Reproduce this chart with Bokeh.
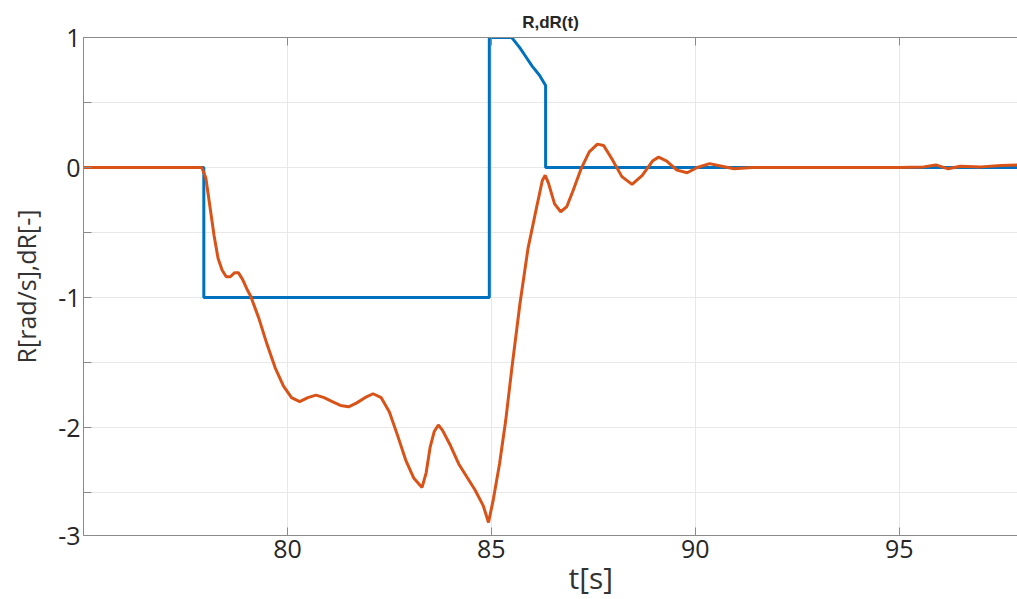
from bokeh.plotting import figure
from bokeh.models import Range1d, FixedTicker, LinearAxis, Title
from bokeh.embed import file_html
from bokeh.resources import INLINE

# ---- data ----
t_dR = [75.0, 77.95, 77.95, 84.95, 84.95, 85.5, 85.55, 85.7, 85.85, 86.0, 86.18, 86.33, 86.33, 97.9]
dR = [0.0, 0.0, -1.0, -1.0, 1.0, 1.0, 0.98, 0.92, 0.85, 0.78, 0.71, 0.63, 0.0, 0.0]

t_R = [75.0, 77.9, 78.0, 78.1, 78.2, 78.3, 78.4, 78.5, 78.6, 78.7, 78.8, 78.9, 79.0, 79.1,
       79.3, 79.5, 79.7, 79.9, 80.1, 80.3, 80.5, 80.7, 80.9, 81.1, 81.3, 81.5, 81.7, 81.9,
       82.1, 82.3, 82.5, 82.7, 82.9, 83.1, 83.3, 83.4, 83.5, 83.6, 83.7, 83.8, 84.0, 84.2,
       84.4, 84.6, 84.8, 84.93, 85.05, 85.2, 85.35, 85.5, 85.7, 85.9, 86.1, 86.25, 86.32,
       86.4, 86.55, 86.7, 86.85, 87.0, 87.2, 87.4, 87.6, 87.75, 87.95, 88.2, 88.45, 88.7,
       88.95, 89.1, 89.3, 89.55, 89.8, 90.05, 90.35, 90.65, 90.95, 91.4, 92.5, 93.5, 95.0,
       95.6, 95.9, 96.2, 96.5, 97.0, 97.5, 97.9]
R = [0.0, 0.0, -0.08, -0.30, -0.52, -0.70, -0.79, -0.84, -0.84, -0.81, -0.81, -0.86, -0.93, -0.99,
     -1.16, -1.36, -1.54, -1.68, -1.77, -1.80, -1.77, -1.75, -1.77, -1.80, -1.83, -1.84, -1.81, -1.77,
     -1.74, -1.77, -1.88, -2.06, -2.25, -2.39, -2.46, -2.35, -2.15, -2.03, -1.98, -2.02, -2.14, -2.28,
     -2.38, -2.48, -2.60, -2.73, -2.55, -2.28, -1.95, -1.55, -1.05, -0.62, -0.32, -0.10, -0.06,
     -0.12, -0.28, -0.34, -0.30, -0.18, -0.01, 0.12, 0.18, 0.17, 0.07, -0.07, -0.13, -0.06,
     0.05, 0.08, 0.05, -0.02, -0.04, 0.0, 0.03, 0.01, -0.01, 0.0, 0.0, 0.0, 0.0,
     0.005, 0.02, -0.01, 0.01, 0.005, 0.015, 0.02]

x_ticks = [80, 85, 90, 95]
y_bottom = -2.83
y_major = [y_bottom, -2.0, -1.0, 0.0, 1.0]
y_minor = [-2.5, -1.5, -0.5, 0.5]
y_labels = {y_bottom: "-3", -2.0: "-2", -1.0: "-1", 0.0: "0", 1.0: "1"}

title_text = "R,dR(t)"
x_label = "t[s]"
y_label = "R[rad/s],dR[-]"

FONT = "Open Sans"
AXIS_GRAY = "#8a8a8a"
TEXT = "#262626"
GRID = "#e8e8e8"

p = figure(width=1017, height=599, output_backend="svg", toolbar_location=None,
           x_range=Range1d(75, 97.9), y_range=Range1d(y_bottom, 1.0),
           min_border_left=83, min_border_right=0, min_border_top=37, min_border_bottom=64)
p.outline_line_color = None

p.title.text = title_text
p.title.align = "center"
p.title.text_font = "Liberation Sans"
p.title.text_font_style = "bold"
p.title.text_font_size = "17px"
p.title.text_color = TEXT
p.title.standoff = 11

# grids
p.xgrid.ticker = FixedTicker(ticks=x_ticks)
p.ygrid.ticker = FixedTicker(ticks=[-2.0, -1.0, 0.0, 1.0], minor_ticks=y_minor)
p.xgrid.grid_line_color = GRID
p.ygrid.grid_line_color = GRID
p.ygrid.minor_grid_line_color = GRID

# axes
for ax in (p.xaxis[0], p.yaxis[0]):
    ax.axis_line_color = AXIS_GRAY
    ax.major_tick_line_color = AXIS_GRAY
    ax.major_tick_in = 8
    ax.major_tick_out = 0
    ax.minor_tick_line_color = AXIS_GRAY
    ax.minor_tick_in = 8
    ax.minor_tick_out = 0
    ax.major_label_text_font = FONT
    ax.major_label_text_font_size = "25px"
    ax.major_label_text_color = TEXT

p.xaxis.ticker = FixedTicker(ticks=x_ticks)
p.xaxis.major_label_standoff = 4

p.yaxis.ticker = FixedTicker(ticks=y_major, minor_ticks=y_minor)
p.yaxis.major_label_overrides = y_labels
p.yaxis.major_label_standoff = 3
p.yaxis.axis_label = y_label
p.yaxis.axis_label_text_font = FONT
p.yaxis.axis_label_text_font_size = "25px"
p.yaxis.axis_label_text_font_style = "normal"
p.yaxis.axis_label_text_color = "#333333"
p.yaxis.axis_label_standoff = 12

top = LinearAxis(ticker=FixedTicker(ticks=[], minor_ticks=x_ticks))
top.axis_line_color = AXIS_GRAY
top.major_tick_line_color = None
top.minor_tick_line_color = AXIS_GRAY
top.minor_tick_in = 8
top.minor_tick_out = 0
top.major_label_standoff = 0
p.add_layout(top, "above")

# x-axis label placed as a left-aligned title below the axis
p.add_layout(Title(text=x_label, align="left", offset=485, standoff=-12,
                   text_font=FONT, text_font_size="30px", text_font_style="normal",
                   text_color="#333333"), "below")

# lines
p.line(t_dR, dR, line_color="#0072BD", line_width=3)
p.line(t_R, R, line_color="#D95319", line_width=3)

open("out.html", "w").write(file_html(p, INLINE))
